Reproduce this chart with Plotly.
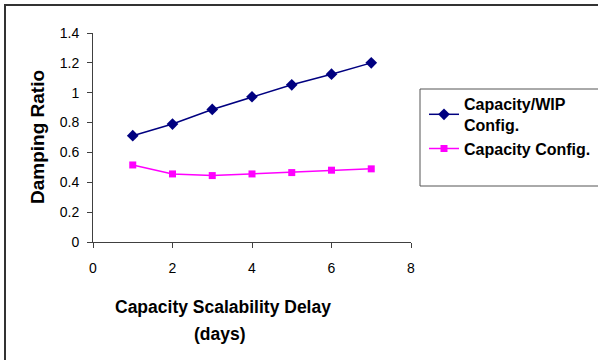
import plotly.graph_objects as go

delay_days = [1, 2, 3, 4, 5, 6, 7]
capacity_wip = [0.712, 0.790, 0.888, 0.973, 1.053, 1.124, 1.200]
capacity_only = [0.516, 0.456, 0.445, 0.456, 0.465, 0.481, 0.490]
series_names = ["<b>Capacity/WIP<br>Config.</b>", "<b>Capacity Config.</b>"]
x_ticks = [0, 2, 4, 6, 8]
y_ticks = [0, 0.2, 0.4, 0.6, 0.8, 1, 1.2, 1.4]
y_tick_text = ["0", "0.2", "0.4", "0.6", "0.8", "1", "1.2", "1.4"]
x_title_lines = ["Capacity Scalability Delay", "(days)"]
y_title = "Damping Ratio"

W, H = 598, 360
L, R, T, B = 93, 411, 33, 242  # plot area in pixels


def px(xp):
    return (xp - L) / (R - L)


def py(yp):
    return (B - yp) / (B - T)


FONT = "Liberation Sans, Arial, sans-serif"

fig = go.Figure()
fig.add_trace(go.Scatter(
    x=delay_days, y=capacity_wip, name=series_names[0], mode="lines+markers",
    line=dict(color="#000080", width=1.5),
    marker=dict(symbol="diamond", size=9, color="#000080"),
))
fig.add_trace(go.Scatter(
    x=delay_days, y=capacity_only, name=series_names[1], mode="lines+markers",
    line=dict(color="#FF00FF", width=1.5),
    marker=dict(symbol="square", size=7, color="#FF00FF"),
))

axis_color = "#404040"
fig.update_layout(
    width=W, height=H,
    margin=dict(l=L, r=W - R, t=T, b=H - B, pad=0, autoexpand=False),
    paper_bgcolor="white", plot_bgcolor="white",
    font=dict(family=FONT, color="black", size=14),
    showlegend=True,
    legend=dict(
        x=px(424), y=py(87), xanchor="left", yanchor="top",
        bgcolor="rgba(0,0,0,0)", borderwidth=0,
        font=dict(family=FONT, size=16, color="black"),
        itemwidth=30, tracegroupgap=6,
    ),
    xaxis=dict(
        range=[0, 8], tickvals=x_ticks, ticktext=[str(v) for v in x_ticks],
        showgrid=False, zeroline=False, showline=True, linecolor=axis_color,
        linewidth=1, ticks="outside", ticklen=5, tickcolor=axis_color,
        tickfont=dict(family=FONT, size=14, color="black"), ticklabelstandoff=8,
        fixedrange=True, automargin=False,
    ),
    yaxis=dict(
        range=[0, 1.4], tickvals=y_ticks, ticktext=y_tick_text,
        showgrid=False, zeroline=False, showline=True, linecolor=axis_color,
        linewidth=1, ticks="outside", ticklen=5, tickcolor=axis_color,
        tickfont=dict(family=FONT, size=14, color="black"), ticklabelstandoff=5,
        fixedrange=True, automargin=False,
    ),
    shapes=[
        dict(type="rect", xref="paper", yref="paper",
             x0=px(5), y0=py(366), x1=px(610), y1=py(5),
             line=dict(color="#333333", width=2), fillcolor="rgba(0,0,0,0)", layer="below"),
        dict(type="rect", xref="paper", yref="paper",
             x0=px(420), y0=py(186), x1=px(610), y1=py(89),
             line=dict(color="#555555", width=1), fillcolor="rgba(0,0,0,0)", layer="below"),
    ],
    annotations=[
        dict(text="<b>" + x_title_lines[0] + "</b>", xref="paper", yref="paper",
             x=px(223), y=py(307), xanchor="center", yanchor="middle", showarrow=False,
             font=dict(family=FONT, size=17.5, color="black")),
        dict(text="<b>" + x_title_lines[1] + "</b>", xref="paper", yref="paper",
             x=px(220), y=py(334), xanchor="center", yanchor="middle", showarrow=False,
             font=dict(family=FONT, size=17.5, color="black")),
        dict(text="<b>" + y_title + "</b>", xref="paper", yref="paper",
             x=px(37), y=py(137), xanchor="center", yanchor="middle", showarrow=False,
             textangle=-90, font=dict(family=FONT, size=19, color="black")),
    ],
)

fig.write_html("out.html")
